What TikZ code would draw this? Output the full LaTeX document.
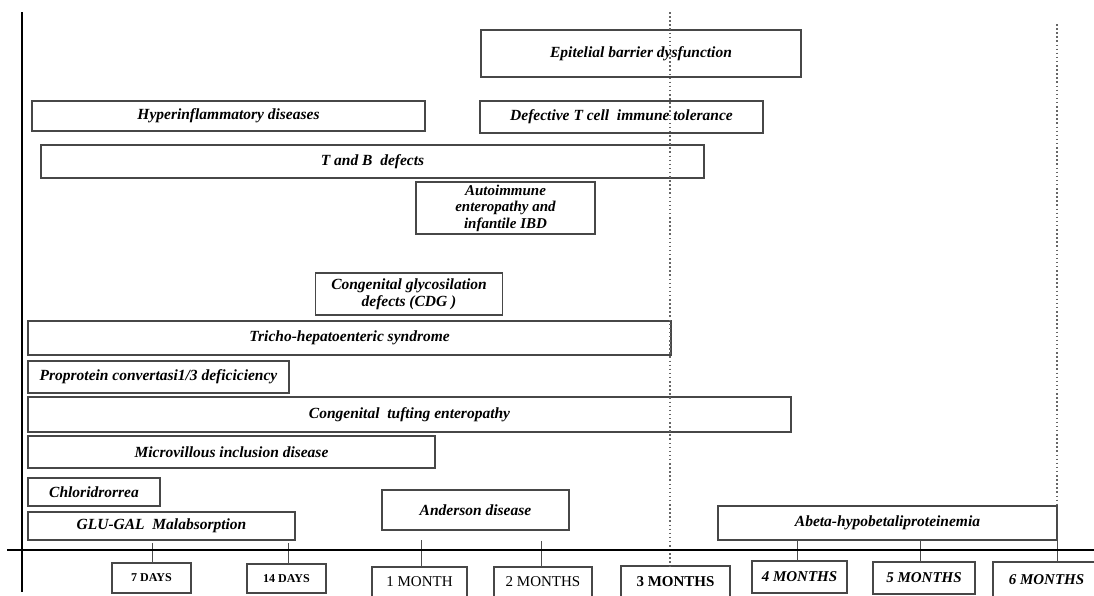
\documentclass[tikz,border=0pt]{standalone}
\usepackage{fontspec}
\setmainfont{Liberation Serif}
\begin{document}
\begin{tikzpicture}[x=1pt,y=-1pt,
  bar/.style={draw=black!72, line width=1.2pt, inner sep=0pt, outer sep=0pt, align=center,
    font=\bfseries\itshape\fontsize{15.5}{18}\selectfont},
  lab/.style={draw=black!72, line width=1.2pt, inner sep=0pt, outer sep=0pt, align=center},
  dayfont/.style={font=\bfseries\fontsize{12}{14}\selectfont},
  monfont/.style={font=\fontsize{15}{17}\selectfont},
  monbold/.style={font=\bfseries\fontsize{15}{17}\selectfont},
  monbi/.style={font=\bfseries\itshape\fontsize{15}{17}\selectfont},
  axisline/.style={line width=2.8pt, black},
  tickline/.style={line width=1pt, black!70},
  guide/.style={line width=1.5pt, black!60, dash pattern=on 1.5pt off 2.6pt}]
\clip (0,0) rectangle (1094,595);
\fill[white] (0,0) rectangle (1094,595);

% axis label boxes
\node[lab, dayfont, minimum width=79pt, minimum height=30pt] (l7) at (151.5,578) {7 DAYS};
\node[lab, dayfont, minimum width=79pt, minimum height=29pt] (l14) at (286.5,578.5) {14 DAYS};
\node[lab, monfont, minimum width=95pt, minimum height=30pt] (l1) at (419.5,582) {1 MONTH};
\node[lab, monfont, minimum width=98pt, minimum height=30pt] (l2) at (543,582) {2 MONTHS};
\node[lab, monbold, minimum width=109pt, minimum height=31pt] (l3) at (675.5,581.5) {3 MONTHS};
\node[lab, monbi, minimum width=95pt, minimum height=32pt] (l4) at (799.5,577) {4 MONTHS};
\node[lab, monbi, minimum width=102pt, minimum height=32pt] (l5) at (924,578) {5 MONTHS};
\node[lab, monbi, minimum width=107pt, minimum height=35pt] (l6) at (1046.5,579.5) {6 MONTHS};

% bars
\node[bar, minimum width=320pt, minimum height=47pt] (epi) at (641,53.5) {Epitelial barrier dysfunction};
\node[bar, minimum width=393pt, minimum height=30pt] (hyper) at (228.5,116) {Hyperinflammatory diseases};
\node[bar, minimum width=283pt, minimum height=32pt] (deft) at (621.5,117) {Defective T cell\ \ immune tolerance};
\node[bar, minimum width=663pt, minimum height=33pt] (tb) at (372.5,161.5) {T and B\ \ defects};
\node[bar, minimum width=179pt, minimum height=52pt, font=\bfseries\itshape\fontsize{15}{16.5}\selectfont] (auto) at (505.5,208) {Autoimmune\\enteropathy and\\infantile IBD};
\node[bar, minimum width=187pt, minimum height=42pt, font=\bfseries\itshape\fontsize{15.5}{17}\selectfont] (cdg) at (409,294) {Congenital glycosilation\\defects (CDG )};
\node[bar, minimum width=643pt, minimum height=34pt] (tricho) at (349.5,338) {Tricho-hepatoenteric syndrome};
\node[bar, minimum width=261pt, minimum height=32pt] (pro) at (158.5,377) {Proprotein convertasi1/3 deficiciency};
\node[bar, minimum width=763pt, minimum height=35pt] (tuft) at (409.5,414.5) {Congenital\ \ tufting enteropathy};
\node[bar, minimum width=407pt, minimum height=32pt] (micro) at (231.5,452) {Microvillous inclusion disease};
\node[bar, minimum width=132pt, minimum height=28pt] (chlor) at (94,492) {Chloridrorrea};
\node[bar, minimum width=267pt, minimum height=28pt] (glu) at (161.5,526) {GLU-GAL\ \ Malabsorption};
\node[bar, minimum width=187pt, minimum height=40pt] (and) at (475.5,510) {Anderson disease};
\node[bar, minimum width=339pt, minimum height=34pt] (abeta) at (887.5,523) {Abeta-hypobetaliproteinemia};

% guide coordinates
\coordinate (g3) at (670,12);
\coordinate (g6) at (1057,24);
\coordinate (k7) at (152,543);
\coordinate (k14) at (288,543);
\coordinate (k1) at (421,540);
\coordinate (k2) at (541,541);
\coordinate (k4) at (797,550);
\coordinate (k5) at (920,550);

% dotted guides
\draw[guide] (g3) -- (g3 |- l3.north);
\draw[guide] (g6) -- (g6 |- abeta.north);
\draw[tickline] (g6 |- abeta.north) -- (g6 |- l6.north);

% ticks
\draw[tickline] (k7) -- (k7 |- l7.north);
\draw[tickline] (k14) -- (k14 |- l14.north);
\draw[tickline] (k1) -- (k1 |- l1.north);
\draw[tickline] (k2) -- (k2 |- l2.north);
\draw[tickline] (k4 |- abeta.south) -- (k4 |- l4.north);
\draw[tickline] (k5 |- abeta.south) -- (k5 |- l5.north);

% axes
\coordinate (ytop) at (22,12);
\coordinate (ybot) at (22,592);
\coordinate (xl) at (7,550);
\coordinate (xr) at (1094,550);
\draw[axisline] (ytop) -- (ybot);
\draw[axisline] (xl) -- (xr);
\end{tikzpicture}
\end{document}
